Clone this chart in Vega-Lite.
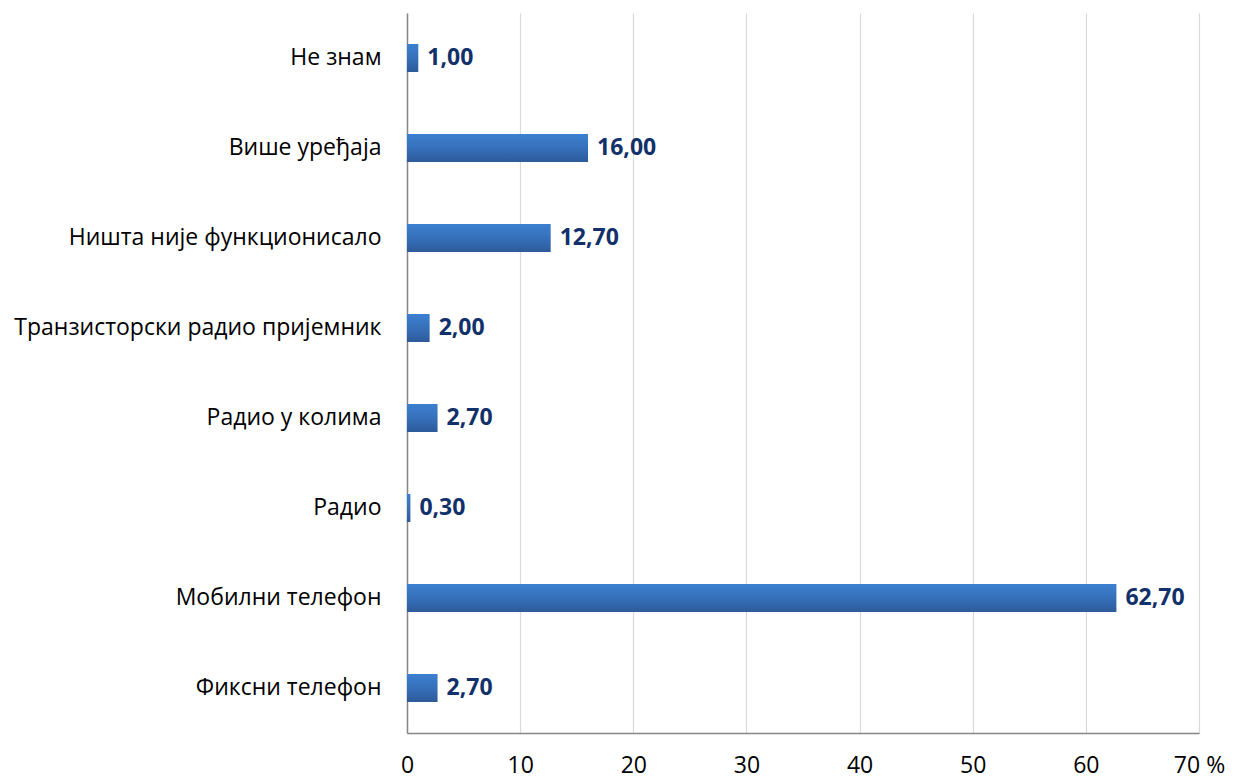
{
  "$schema": "https://vega.github.io/schema/vega-lite/v6.json",
  "autosize": {"type": "none"},
  "padding": {"left": 407, "top": 13, "right": 48, "bottom": 45},
  "width": 792,
  "height": 720,
  "background": "white",
  "config": {
    "view": {"stroke": null},
    "font": "Open Sans",
    "locale": {"number": {"decimal": ",", "thousands": ".", "grouping": [3], "currency": ["", " €"]}}
  },
  "data": {
    "values": [
      {"category": "Не знам", "value": 1.0},
      {"category": "Више уређаја", "value": 16.0},
      {"category": "Ништа није функционисало", "value": 12.7},
      {"category": "Транзисторски радио пријемник", "value": 2.0},
      {"category": "Радио у колима", "value": 2.7},
      {"category": "Радио", "value": 0.3},
      {"category": "Мобилни телефон", "value": 62.7},
      {"category": "Фиксни телефон", "value": 2.7}
    ]
  },
  "encoding": {
    "y": {
      "field": "category",
      "type": "nominal",
      "sort": null,
      "scale": {"paddingInner": 0, "paddingOuter": 0},
      "axis": {
        "title": null,
        "ticks": false,
        "labelPadding": 26,
        "labelFontSize": 23,
        "labelLimit": 420,
        "labelColor": "#000000",
        "labelFont": "Open Sans",
        "domainColor": "#868686",
        "domainWidth": 1.5,
        "grid": false
      }
    },
    "x": {
      "field": "value",
      "type": "quantitative",
      "scale": {"domain": [0, 70], "nice": false},
      "axis": {
        "title": null,
        "values": [0, 10, 20, 30, 40, 50, 60, 70],
        "ticks": false,
        "labelPadding": 21,
        "labelFontSize": 23,
        "labelColor": "#000000",
        "labelFont": "Open Sans",
        "labelExpr": "datum.value == 70 ? '70 %' : datum.label",
        "labelFlush": false,
        "domainColor": "#868686",
        "domainWidth": 1.5,
        "grid": true,
        "gridColor": "#D9D9D9",
        "gridWidth": 1.2
      }
    }
  },
  "layer": [
    {
      "mark": {
        "type": "bar",
        "size": 28,
        "color": {
          "gradient": "linear",
          "x1": 0, "y1": 0, "x2": 0, "y2": 1,
          "stops": [
            {"offset": 0, "color": "#3D80D0"},
            {"offset": 0.5, "color": "#3670BA"},
            {"offset": 1, "color": "#2D5A9A"}
          ]
        }
      }
    },
    {
      "mark": {
        "type": "text",
        "align": "left",
        "baseline": "middle",
        "dx": 9,
        "fontSize": 23,
        "fontWeight": "bold",
        "font": "Open Sans",
        "color": "#12306A"
      },
      "encoding": {
        "text": {"field": "value", "type": "quantitative", "format": ".2f"}
      }
    }
  ]
}
